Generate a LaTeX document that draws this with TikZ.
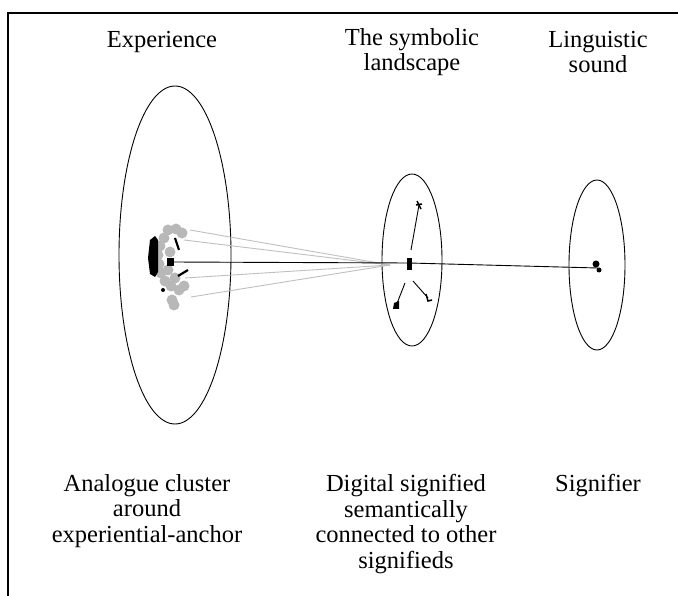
\documentclass[tikz,border=0pt]{standalone}
\usepackage{fontspec}
\setmainfont{Liberation Serif}
\begin{document}
\begin{tikzpicture}[x=1pt,y=-1pt,
  lbl/.style={align=center,font=\fontsize{24.5}{25.5}\selectfont,inner sep=0pt},
  gl/.style={draw=black!25,line width=0.9pt},
  bl/.style={draw=black,line width=0.9pt},
  gdot/.style={fill=black!28},
  bdot/.style={fill=black}]
\useasboundingbox (0,0) rectangle (678,596);
\draw[line width=1.2pt] (8,596) -- (8,13) -- (678,13);
% ellipses
\draw[line width=0.9pt] (175,255) ellipse [x radius=56, y radius=169];
\draw[line width=0.9pt] (412,260) ellipse [x radius=30, y radius=86];
\draw[line width=0.9pt] (597,265) ellipse [x radius=28, y radius=85];
% cluster
\foreach \p in {(168,230),(176,229),(182,233),(164,238),(160,246),(158,255),(159,264),(161,273),(165,281),(171,286),(179,290),(184,286),(170,252),(168,270),(175,278),(172,300),(174,305)}
  \fill[gdot] \p circle (5.5);
\fill[bdot] (150,240) -- (155,236) -- (158,240) -- (158,272) -- (155,277) -- (150,274) -- (148,258) -- cycle;
\coordinate (anc) at (172,262);
\coordinate (g1) at (190,230);
\coordinate (g2) at (184,240);
\coordinate (g3) at (185,278);
\coordinate (g4) at (191,297);
\coordinate (mc) at (409,263);
\coordinate (mg) at (390,265);
\coordinate (m1) at (419,205);
\coordinate (m2) at (396,306);
\coordinate (m3) at (428,298);
\coordinate (rc) at (598,268);
\draw[gl] (g1) -- (mg);
\draw[gl] (g2) -- (mg);
\draw[gl] (g3) -- (mg);
\draw[gl] (g4) -- (mg);
\draw[bl] (anc) -- (mc);
\draw[bl] (mc) -- (rc);
\draw[bl] (m1) -- (411,250);
\draw[bl] (m2) -- (405,283);
\draw[bl] (m3) -- (413,281);
% small black marks in cluster
\draw[line width=2.2pt] (175,238) -- (179,250);
\fill (167,258) rectangle (174,266);
\draw[line width=2.2pt] (178,276) -- (188,270);
\fill (163,290) circle (2);
% glyph-like marks
\fill (407,258) rectangle (412,270);
\draw[line width=1.5pt] (417,201) -- (421,209);
\draw[line width=1.5pt] (416,205) -- (422,204);
\fill (394,303) -- (399,301) -- (399,309) -- (393,309) -- cycle;
\draw[line width=1.5pt] (426,294) -- (428,301) -- (432,300);
\fill (596,264) circle (3.5);
\fill (599,270) circle (2.5);
% labels
\node[lbl] (t1) at (162,42) {Experience};
\node[lbl] (t2) at (412,52) {The symbolic\\landscape};
\node[lbl] (t3) at (598,52) {Linguistic\\sound};
\node[lbl] (b1) at (147,511) {Analogue cluster\\around\\experiential-anchor};
\node[lbl] (b2) at (406,524) {Digital signified\\semantically\\connected to other\\signifieds};
\node[lbl] (b3) at (598,486) {Signifier};
\end{tikzpicture}
\end{document}
